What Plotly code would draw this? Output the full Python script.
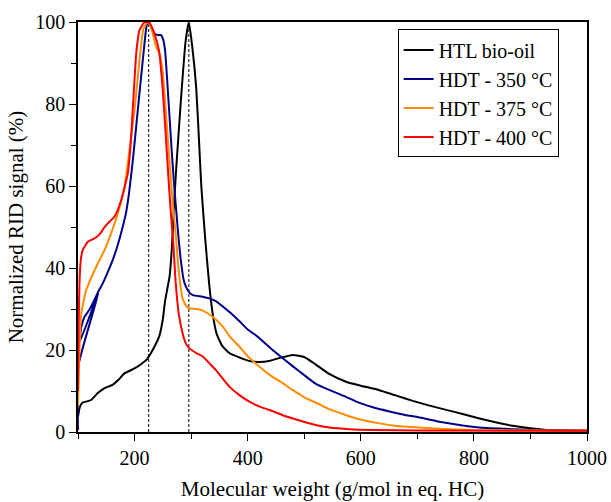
import plotly.graph_objects as go

# ---- data ----
htl_x = [100, 103, 108, 114, 123, 135, 147, 161, 172, 182, 200, 212, 221, 232, 244, 250, 254, 262, 266,
         270, 274, 282, 290, 296, 302, 309, 314, 318, 325, 332, 338, 345, 355, 368, 385, 403, 420, 440, 460,
         480, 500, 520, 545, 575, 600, 633, 660, 692, 720, 751, 780, 810, 840, 869, 900, 930, 1000]
htl_y = [3.7, 6.0, 7.2, 7.4, 7.8, 9.5, 10.7, 11.5, 12.8, 14.3, 15.5, 16.6, 17.6, 20.0, 23.5, 27.5, 32.0,
         38.0, 45.0, 56.0, 65.0, 81.0, 95.0, 100.0, 94.0, 84.0, 71.0, 60.0, 47.0, 36.0, 29.0, 24.0, 21.0, 19.2,
         18.2, 17.3, 17.1, 17.4, 18.2, 18.8, 18.3, 16.5, 14.1, 12.2, 11.3, 10.2, 9.0, 7.6, 6.5, 5.4, 4.4,
         3.3, 2.3, 1.5, 0.9, 0.5, 0.3]

h350_x = [100, 100.3, 136, 103, 106, 111.5, 120, 129, 136, 144, 152, 161.5, 170, 179, 185, 190, 197,
          205.7, 214.6, 221.6, 225, 230, 235, 241, 247, 251, 254, 259, 265, 269, 276.5, 282.5, 287, 291,
          297, 303, 320, 332, 345, 356, 370, 385.5, 400, 418, 440, 462, 480, 503.5, 520, 545, 570, 592,
          620, 651, 680, 698, 739, 780, 810, 869, 930, 1000]
h350_y = [0.5, 16.0, 33.8, 22.0, 25.7, 28.1, 29.8, 32.2, 34.3, 36.3, 38.8, 42.0, 45.5, 50.0, 53.5, 58.0,
          66.3, 78.5, 90.7, 99.3, 100.0, 98.5, 97.2, 96.8, 96.8, 95.5, 93.0, 83.0, 70.0, 62.0, 49.3, 41.1,
          37.0, 35.4, 34.0, 33.4, 33.0, 32.6, 31.8, 30.6, 29.0, 27.0, 25.0, 23.2, 20.5, 18.0, 16.0, 13.5,
          11.8, 10.2, 8.8, 7.4, 6.1, 5.0, 4.1, 3.7, 2.5, 1.6, 1.1, 0.7, 0.45, 0.3]

h375_x = [100, 101.5, 103, 105.6, 110, 114.5, 123, 135, 147, 158.7, 170.4, 182, 191, 200, 208.7, 216,
          223.5, 229.5, 235, 239, 244, 250, 256, 264, 268, 273.6, 278, 285, 292, 297, 310, 320.6, 338,
          356, 370, 385.5, 400, 421, 440, 462, 480, 503.5, 520, 545, 570, 592, 633, 660, 692, 739, 800,
          1000]
h375_y = [6.5, 15.0, 22.0, 28.5, 32.0, 34.6, 37.5, 41.1, 44.4, 48.5, 53.3, 59.5, 68.8, 78.5, 90.7, 98.5,
          100.0, 98.5, 95.6, 93.6, 92.4, 87.5, 76.9, 62.0, 55.0, 47.0, 39.5, 32.5, 30.6, 30.2, 30.0, 29.6,
          28.1, 25.7, 23.0, 20.8, 18.5, 15.9, 13.8, 11.9, 10.2, 8.2, 7.2, 5.5, 4.3, 3.3, 2.1, 1.5, 1.2,
          0.8, 0.5, 0.3]

h400_x = [100, 101, 102.6, 105, 108.5, 117.3, 129, 138, 146, 152.7, 164.5, 176.4, 188, 193, 197, 203,
          208.7, 217.6, 226.4, 235, 243, 249, 255, 260.6, 265, 268.5, 272.4, 278, 285, 291, 297, 310,
          320.6, 332, 344, 356, 368, 385.5, 403, 421, 440, 462, 480, 503.5, 520, 545, 580, 621, 700, 1000]
h400_y = [10.0, 25.0, 36.3, 42.0, 44.4, 46.4, 47.2, 48.2, 49.8, 50.9, 52.5, 56.6, 63.0, 70.0, 79.0, 92.4,
          98.0, 100.0, 99.8, 97.2, 93.2, 85.0, 72.8, 60.5, 52.0, 46.0, 37.0, 29.0, 24.0, 21.5, 20.4, 19.2,
          18.4, 16.8, 15.1, 13.0, 11.0, 9.0, 7.4, 6.2, 5.3, 4.1, 3.3, 2.3, 1.7, 1.1, 0.7, 0.5, 0.35, 0.3]

vline_x = [225, 296]
vline_y = [0, 100]

series = [
    ("HTL bio-oil", htl_x, htl_y, "#000000"),
    ("HDT - 350 °C", h350_x, h350_y, "#00008B"),
    ("HDT - 375 °C", h375_x, h375_y, "#FF8C00"),
    ("HDT - 400 °C", h400_x, h400_y, "#FF0000"),
]

FONT = "Liberation Serif"

fig = go.Figure()

for vx in vline_x:
    fig.add_trace(go.Scatter(x=[vx, vx], y=vline_y, mode="lines", showlegend=False,
                             hoverinfo="skip",
                             line=dict(color="black", width=1, dash="3px,2px")))

for name, xs, ys, col in series:
    fig.add_trace(go.Scatter(x=xs, y=ys, mode="lines", name=name,
                             line=dict(color=col, width=2, shape="spline", smoothing=0.45)))

axis_common = dict(
    showline=True, linecolor="black", linewidth=1.5, mirror=True,
    ticks="outside", ticklen=7, tickwidth=1.2, tickcolor="black",
    showgrid=False, zeroline=False, automargin=False,
    tickfont=dict(family=FONT, size=20, color="black"),
)

fig.update_xaxes(
    range=[100, 1000], tickvals=[200, 400, 600, 800, 1000],
    minor=dict(ticks="outside", ticklen=5, tickwidth=1.2, tickcolor="black", dtick=100, tick0=0),
    title=dict(text="Molecular weight (g/mol in eq. HC)", font=dict(family=FONT, size=21, color="black"),
               standoff=14),
    **axis_common,
)
fig.update_yaxes(
    range=[0, 100], tickvals=[0, 20, 40, 60, 80, 100],
    minor=dict(ticks="outside", ticklen=5, tickwidth=1.2, tickcolor="black", dtick=10, tick0=0),
    title=dict(text="Normalized RID signal (%)", font=dict(family=FONT, size=21, color="black"),
               standoff=6),
    **axis_common,
)

fig.update_layout(
    width=611, height=502,
    margin=dict(l=78, r=24, t=22, b=70),
    plot_bgcolor="white", paper_bgcolor="white",
    font=dict(family=FONT, color="black"),
    legend=dict(x=0.628, y=0.982, xanchor="left", yanchor="top",
                bgcolor="white", bordercolor="black", borderwidth=1,
                font=dict(family=FONT, size=20, color="black"),
                tracegroupgap=0, itemwidth=30),
)

fig.write_html("out.html")
